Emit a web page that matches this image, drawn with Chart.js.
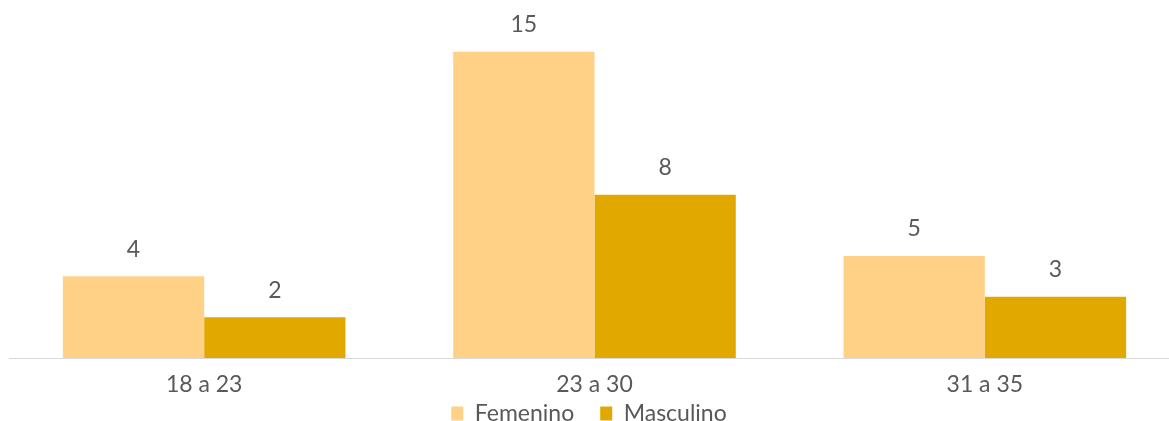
<!DOCTYPE html>
<html>
<head>
<meta charset="utf-8">
<script src="https://cdn.jsdelivr.net/npm/chart.js@4"></script>
<style>
  html, body { margin: 0; padding: 0; background: #fff; }
  #wrap { width: 1169px; height: 421px; position: relative; }
</style>
</head>
<body>
<div id="wrap"><canvas id="chartEdades"></canvas></div>
<script>
const categorias = ['18 a 23', '23 a 30', '31 a 35'];
const femenino = [4, 15, 5];
const masculino = [2, 8, 3];

// etiquetas de valor encima de cada barra
const valoresPlugin = {
  id: 'valores',
  afterDatasetsDraw(chart) {
    const ctx = chart.ctx;
    ctx.save();
    ctx.fillStyle = '#595959';
    ctx.font = '23px Lato, sans-serif';
    ctx.textAlign = 'center';
    ctx.textBaseline = 'middle';
    chart.data.datasets.forEach((ds, i) => {
      chart.getDatasetMeta(i).data.forEach((bar, j) => {
        ctx.fillText(ds.data[j], bar.x, bar.y - 27);
      });
    });
    ctx.restore();
  }
};

// el eje x es bajo para acercar la leyenda, pero sus etiquetas no se deben recortar;
// ademas el area del grafico sale un poco por la derecha, como en el original
const ejePlugin = {
  id: 'ejeX',
  afterLayout(chart) {
    const x = chart.scales.x;
    x.bottom = x.top + 42;
    x.right = x.left + 1171;
    x.width = 1171;
    x.configure();
  }
};

const ctx = document.getElementById('chartEdades').getContext('2d');
new Chart(ctx, {
  type: 'bar',
  data: {
    labels: categorias,
    datasets: [
      { label: 'Femenino', data: femenino, backgroundColor: '#FFD187' },
      { label: 'Masculino', data: masculino, backgroundColor: '#E1A900' }
    ]
  },
  options: {
    responsive: true,
    maintainAspectRatio: false,
    animation: false,
    layout: { padding: { top: 11, left: 9, right: 0, bottom: -14 } },
    datasets: { bar: { categoryPercentage: 0.724, barPercentage: 1 } },
    scales: {
      x: {
        grid: { display: false, drawTicks: false },
        border: { color: '#D9D9D9', width: 1 },
        ticks: { color: '#595959', font: { family: 'Lato', size: 23 }, padding: 13 },
        afterFit(scale) { scale.height = 18; }
      },
      y: { display: false, min: 0, max: 17 }
    },
    plugins: {
      legend: {
        position: 'bottom',
        labels: { color: '#595959', font: { family: 'Lato', size: 23 }, boxWidth: 12, boxHeight: 14, padding: 26 }
      },
      tooltip: { enabled: false }
    }
  },
  plugins: [valoresPlugin, ejePlugin]
});
</script>
</body>
</html>
